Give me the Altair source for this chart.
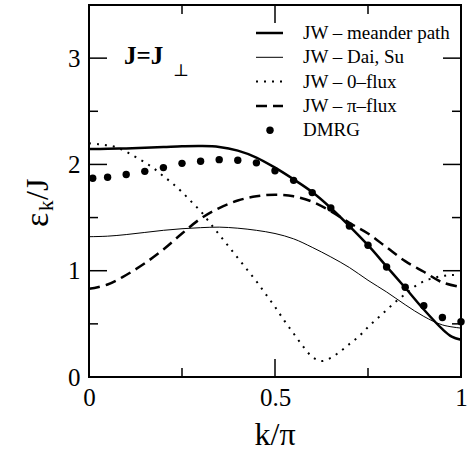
import altair as alt
import pandas as pd

# ---- data ----
meander_k = [0, 0.05, 0.1, 0.15, 0.2, 0.25, 0.3, 0.35, 0.4, 0.45, 0.5, 0.55, 0.6, 0.65, 0.7, 0.75, 0.8, 0.85, 0.9, 0.95, 0.975, 1.0]
meander_e = [2.145, 2.147, 2.151, 2.157, 2.163, 2.17, 2.173, 2.165, 2.13, 2.065, 1.97, 1.86, 1.74, 1.59, 1.42, 1.24, 1.04, 0.84, 0.635, 0.45, 0.38, 0.35]

daisu_k = [0, 0.05, 0.1, 0.15, 0.2, 0.25, 0.3, 0.35, 0.4, 0.45, 0.5, 0.55, 0.6, 0.65, 0.7, 0.75, 0.8, 0.85, 0.9, 0.95, 1.0]
daisu_e = [1.32, 1.325, 1.34, 1.36, 1.38, 1.395, 1.405, 1.41, 1.40, 1.38, 1.35, 1.30, 1.22, 1.13, 1.03, 0.91, 0.80, 0.68, 0.57, 0.49, 0.46]

flux0_k = [0, 0.025, 0.05, 0.075, 0.1, 0.125, 0.15, 0.175, 0.2, 0.225, 0.25, 0.275, 0.3, 0.325, 0.35, 0.375, 0.4, 0.425, 0.45, 0.475, 0.5, 0.525, 0.55, 0.575, 0.6, 0.625, 0.65, 0.675, 0.7, 0.725, 0.75, 0.775, 0.8, 0.825, 0.85, 0.875, 0.9, 0.925, 0.95, 0.975, 1.0]
flux0_e = [2.20, 2.19, 2.18, 2.16, 2.12, 2.07, 2.02, 1.96, 1.89, 1.82, 1.74, 1.65, 1.56, 1.45, 1.34, 1.23, 1.12, 1.01, 0.90, 0.78, 0.66, 0.53, 0.41, 0.29, 0.19, 0.15, 0.18, 0.24, 0.31, 0.38, 0.47, 0.55, 0.63, 0.71, 0.78, 0.85, 0.90, 0.93, 0.95, 0.96, 0.96]

fluxpi_k = [0, 0.05, 0.1, 0.15, 0.2, 0.25, 0.3, 0.35, 0.4, 0.45, 0.5, 0.55, 0.6, 0.65, 0.7, 0.75, 0.8, 0.85, 0.9, 0.95, 1.0]
fluxpi_e = [0.83, 0.87, 0.96, 1.07, 1.20, 1.35, 1.49, 1.59, 1.66, 1.70, 1.715, 1.70, 1.65, 1.56, 1.45, 1.35, 1.22, 1.09, 0.99, 0.89, 0.845]

dmrg_k = [0.01, 0.05, 0.1, 0.15, 0.2, 0.25, 0.3, 0.35, 0.4, 0.45, 0.5, 0.55, 0.6, 0.65, 0.7, 0.75, 0.8, 0.85, 0.9, 0.95, 1.0]
dmrg_e = [1.87, 1.88, 1.905, 1.935, 1.97, 2.01, 2.03, 2.045, 2.04, 2.015, 1.94, 1.85, 1.735, 1.59, 1.42, 1.24, 1.035, 0.845, 0.67, 0.56, 0.52]

x_major = [0, 0.5, 1]
x_minor = [0.25, 0.75]
y_major = [0, 1, 2, 3]
y_minor = [0.5, 1.5, 2.5]

legend_labels = ["JW \u2013 meander path", "JW \u2013 Dai, Su", "JW \u2013 0\u2013flux", "JW \u2013 \u03c0\u2013flux", "DMRG"]

# ---- layout ----
W, H = 372, 372
SERIF = "Liberation Serif"

xscale = alt.Scale(domain=[0, 1], nice=False, zero=False)
yscale = alt.Scale(domain=[0, 3.5], nice=False, zero=False)
xaxis = alt.Axis(values=x_major, format="~g", ticks=False, tickSize=0, domain=False, grid=False,
                 labelFont=SERIF, labelFontSize=25, labelPadding=8, labelFlush=False,
                 labelColor="black", title=None, labelOverlap=False)
yaxis = alt.Axis(values=y_major, format="d", ticks=False, tickSize=0, domain=False, grid=False,
                 labelFont=SERIF, labelFontSize=25, labelPadding=9, labelFlush=False,
                 labelColor="black", title=None, labelOverlap=False)


def X(field):
    return alt.X(field, type="quantitative", scale=xscale, axis=xaxis, title=None)


def Y(field):
    return alt.Y(field, type="quantitative", scale=yscale, axis=yaxis, title=None)


def curve(ks, es, width, dash=None):
    df = pd.DataFrame({"k": ks, "e": es})
    kw = dict(color="black", strokeWidth=width, interpolate="catmull-rom")
    if dash:
        kw["strokeDash"] = dash
    return alt.Chart(df).mark_line(**kw).encode(x=X("k"), y=Y("e"))


def label(text, x, y, size, **kw):
    return alt.Chart(pd.DataFrame({"t": [text]})).mark_text(
        font=kw.pop("font", SERIF), fontSize=size, **kw).encode(
        text="t:N", x=alt.value(x), y=alt.value(y))


layers = []

# ticks (inside, all four sides)
def xticks(vals, length):
    df = pd.DataFrame({"v": vals})
    bottom = alt.Chart(df).mark_rule(color="black", strokeWidth=1.5).encode(
        x=X("v"), y=alt.value(H), y2=alt.value(H - length))
    top = alt.Chart(df).mark_rule(color="black", strokeWidth=1.5).encode(
        x=X("v"), y=alt.value(0), y2=alt.value(length))
    return [bottom, top]


def yticks(vals, length):
    df = pd.DataFrame({"v": vals})
    left = alt.Chart(df).mark_rule(color="black", strokeWidth=1.5).encode(
        y=Y("v"), x=alt.value(0), x2=alt.value(length))
    right = alt.Chart(df).mark_rule(color="black", strokeWidth=1.5).encode(
        y=Y("v"), x=alt.value(W), x2=alt.value(W - length))
    return [left, right]


layers += xticks(x_major, 18) + xticks(x_minor, 9) + yticks(y_major, 18) + yticks(y_minor, 9)

# curves
layers.append(curve(daisu_k, daisu_e, 1))
layers.append(curve(flux0_k, flux0_e, 2, [2, 6]))
layers.append(curve(fluxpi_k, fluxpi_e, 2.5, [11, 6]))
layers.append(curve(meander_k, meander_e, 2.5))
layers.append(alt.Chart(pd.DataFrame({"k": dmrg_k, "e": dmrg_e})).mark_point(
    filled=True, color="black", size=55, opacity=1, shape="circle").encode(x=X("k"), y=Y("e")))

# legend
row_y = [28 + 24.3 * i for i in range(5)]
styles = [dict(strokeWidth=2.5), dict(strokeWidth=1), dict(strokeWidth=2, strokeDash=[2, 6]),
          dict(strokeWidth=2.5, strokeDash=[11, 6])]
for i, st in enumerate(styles):
    layers.append(alt.Chart(pd.DataFrame({"a": [0]})).mark_rule(color="black", **st).encode(
        x=alt.value(167), x2=alt.value(194), y=alt.value(row_y[i])))
layers.append(alt.Chart(pd.DataFrame({"a": [0]})).mark_point(
    filled=True, color="black", size=55, opacity=1, shape="circle").encode(
    x=alt.value(181), y=alt.value(row_y[4])))
for i, lab in enumerate(legend_labels):
    layers.append(label(lab, 214, row_y[i], 19, align="left", baseline="middle"))

# annotation J=J_perp
layers.append(label("J=J", 35, 59, 25, fontWeight="bold", align="left", baseline="alphabetic"))
layers.append(label("\u22a5", 84, 71, 17, font="DejaVu Serif", align="left", baseline="alphabetic"))

# axis titles
layers.append(label("k/\u03c0", 186, 440, 32, align="center", baseline="alphabetic"))
layers.append(label("\u03b5", -41, 222, 34, align="left", baseline="alphabetic", angle=270))
layers.append(label("k", -36, 206, 21, align="left", baseline="alphabetic", angle=270))
layers.append(label("/J", -41, 195, 32, align="left", baseline="alphabetic", angle=270))

chart = alt.layer(*layers).properties(
    width=W, height=H, autosize="none",
    padding={"left": 89, "top": 5, "right": 8, "bottom": 74},
).configure_view(stroke="black", strokeWidth=2)

chart.save("out.html", embed_options={"renderer": "svg", "actions": False})
